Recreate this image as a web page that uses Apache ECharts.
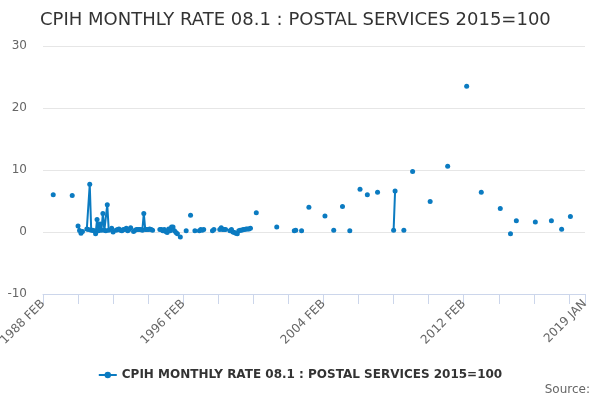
<!DOCTYPE html>
<html>
<head>
<meta charset="utf-8">
<script src="https://cdn.jsdelivr.net/npm/echarts@6/dist/echarts.min.js"></script>
<style>
  html, body { margin: 0; padding: 0; background: #fff; }
  #chart { width: 600px; height: 400px; }
</style>
</head>
<body>
<div id="chart"></div>
<script>
var _ = null;
var seriesName = 'CPIH MONTHLY RATE 08.1 : POSTAL SERVICES 2015=100';
var monthNames = ['JAN','FEB','MAR','APR','MAY','JUN','JUL','AUG','SEP','OCT','NOV','DEC'];
var firstYear = 1988, lastYear = 2019;

// monthly rate, % ; 1988 starts at FEB, 2019 has only JAN
var rates = [
  /*1988*/     _, _, _, _, _, _, _, 6.0, _, _, _,
  /*1989*/  _, _, _, _, _, _, _, _, _, 5.9, _, _,
  /*1990*/  _, 0.95, 0.25, -0.2, 0.1, _, _, 0.5, 0.4, 7.7, 0.3, 0.3,
  /*1991*/  0.2, -0.3, 2.0, 0.2, 1.3, 0.3, 3.0, 0.3, 0.2, 4.4, 0.3, _,
  /*1992*/  0.6, 0.0, _, 0.3, 0.4, 0.5, 0.3, 0.2, 0.4, 0.4, 0.6, 0.2,
  /*1993*/  0.4, 0.7, _, 0.1, 0.3, 0.4, 0.4, 0.4, 0.4, 0.3, 3.0, 0.4,
  /*1994*/  0.4, 0.4, 0.5, 0.4, 0.3, _, _, _, _, 0.4, 0.4, 0.2,
  /*1995*/  0.4, 0.1, -0.1, 0.5, 0.2, 0.8, 0.8, 0.2, -0.1, -0.3, _, -0.8,
  /*1996*/  _, _, _, 0.2, _, _, 2.7, _, _, 0.2, _, _,
  /*1997*/  0.2, 0.4, 0.3, 0.4, _, _, _, _, _, 0.2, 0.4, _,
  /*1998*/  _, _, 0.4, 0.7, 0.4, 0.4, 0.4, _, _, 0.2, 0.4, 0.0,
  /*1999*/  -0.1, -0.2, -0.3, 0.2, 0.3, 0.3, 0.4, 0.4, 0.5, 0.5, 0.5, 0.6,
  /*2000*/  _, _, _, 3.1, _, _, _, _, _, _, _, _,
  /*2001*/  _, _, _, _, _, 0.8, _, _, _, _, _, _,
  /*2002*/  _, _, _, _, _, 0.2, 0.3, _, _, _, 0.2, _,
  /*2003*/  _, _, _, 4.0, _, _, _, _, _, _, _, _,
  /*2004*/  _, _, 2.6, _, _, _, _, _, 0.3, _, _, _,
  /*2005*/  _, _, 4.1, _, _, _, _, 0.2, _, _, _, _,
  /*2006*/  _, _, 6.9, _, _, _, _, 6.0, _, _, _, _,
  /*2007*/  _, _, 6.4, _, _, _, _, _, _, _, _, _,
  /*2008*/  _, 0.3, 6.6, _, _, _, _, _, 0.3, _, _, _,
  /*2009*/  _, _, 9.75, _, _, _, _, _, _, _, _, _,
  /*2010*/  _, _, 4.9, _, _, _, _, _, _, _, _, _,
  /*2011*/  _, _, 10.6, _, _, _, _, _, _, _, _, _,
  /*2012*/  _, _, _, 23.5, _, _, _, _, _, _, _, _,
  /*2013*/  _, 6.4, _, _, _, _, _, _, _, _, _, _,
  /*2014*/  _, _, 3.8, _, _, _, _, _, _, -0.3, _, _,
  /*2015*/  _, 1.8, _, _, _, _, _, _, _, _, _, _,
  /*2016*/  _, _, 1.6, _, _, _, _, _, _, _, _, _,
  /*2017*/  _, 1.8, _, _, _, _, _, _, 0.45, _, _, _,
  /*2018*/  _, _, 2.5, _, _, _, _, _, _, _, _, _,
  /*2019*/  _
];

var yTicks = [-10, 0, 10, 20, 30];

var categories = [];
for (var y = firstYear; y <= lastYear; y++) {
  for (var m = 0; m < 12; m++) {
    if (y === firstYear && m < 1) continue;
    if (y === lastYear && m > 0) break;
    categories.push(y + ' ' + monthNames[m]);
  }
}
var lastIdx = categories.length - 1;

var chart = echarts.init(document.getElementById('chart'));
var option = {
  animation: false,
  textStyle: { fontFamily: 'DejaVu Sans' },
  title: {
    text: seriesName,
    left: 35,
    top: 6,
    textStyle: { fontSize: 18, fontWeight: 'normal', color: '#333333', fontFamily: 'DejaVu Sans' }
  },
  grid: { left: 43, right: 15, top: 46, bottom: 106, outerBoundsMode: 'none', containLabel: false },
  legend: {
    bottom: 14,
    left: 'center',
    itemWidth: 18,
    itemHeight: 8,
    data: [seriesName],
    textStyle: { fontSize: 12, fontWeight: 'bold', color: '#333333', fontFamily: 'DejaVu Sans' }
  },
  graphic: [{
    type: 'text',
    right: 10,
    bottom: 4,
    style: { text: 'Source:', fill: '#666666', fontSize: 12, fontFamily: 'DejaVu Sans' }
  }],
  xAxis: {
    type: 'category',
    data: categories,
    boundaryGap: false,
    axisLine: { onZero: false, lineStyle: { color: '#ccd6eb' } },
    axisTick: {
      length: 10,
      lineStyle: { color: '#ccd6eb' },
      interval: function (i) { return i % 24 === 0 || i === lastIdx; }
    },
    axisLabel: {
      rotate: 45,
      color: '#666666',
      fontSize: 12,
      margin: 8,
      interval: function (i) { return i % 96 === 0 || i === lastIdx; }
    },
    splitLine: { show: false }
  },
  yAxis: {
    type: 'value',
    min: yTicks[0],
    max: yTicks[yTicks.length - 1],
    interval: 10,
    axisLine: { show: false },
    axisTick: { show: false },
    axisLabel: { color: '#666666', fontSize: 12, margin: 16 },
    splitLine: { lineStyle: { color: '#e6e6e6' } }
  },
  series: [{
    name: seriesName,
    type: 'line',
    data: rates,
    connectNulls: false,
    showAllSymbol: true,
    symbol: 'circle',
    symbolSize: 5,
    color: '#0b7bc1',
    lineStyle: { width: 2, color: '#0b7bc1' },
    itemStyle: { color: '#0b7bc1' }
  }]
};
chart.setOption(option);
</script>
</body>
</html>
